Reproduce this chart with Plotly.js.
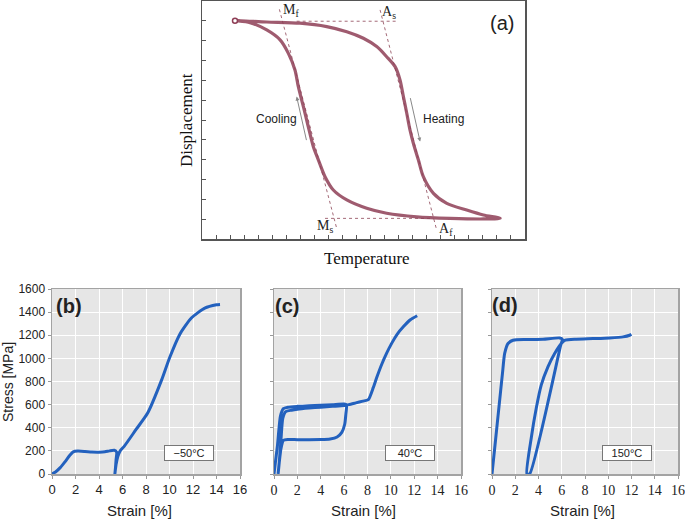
<!DOCTYPE html>
<html>
<head>
<meta charset="utf-8">
<script src="https://cdn.plot.ly/plotly-3.0.1.min.js"></script>
<style>html,body{margin:0;padding:0;background:#fff;}#chart{width:685px;height:521px;}</style>
</head>
<body>
<div id="chart"></div>
<script>
// ---------- Panel (a): displacement vs temperature (arbitrary units) ----------
const tempHeat = [2.35, 4.61, 6.98, 8.88, 10.31, 11.49, 12.44, 13.15, 13.75, 14.10, 14.34, 14.58, 14.81, 15.05, 15.41, 15.76, 16.48, 17.43, 18.85, 20.04, 21.23];
const dispHeat = [11.01, 10.94, 10.88, 10.71, 10.45, 10.12, 9.70, 9.19, 8.69, 8.02, 7.18, 6.34, 5.50, 4.83, 3.98, 3.14, 2.30, 1.80, 1.46, 1.21, 1.04];
const tempCool = [21.23, 20.04, 17.66, 15.29, 13.15, 11.73, 10.31, 9.35, 8.76, 8.29, 7.93, 7.57, 7.22, 6.86, 6.62, 6.15, 5.56, 4.61, 3.42, 2.35];
const dispCool = [1.04, 1.01, 1.04, 1.12, 1.30, 1.55, 1.97, 2.47, 3.14, 3.98, 4.65, 5.66, 6.67, 7.68, 8.52, 9.36, 10.04, 10.54, 10.91, 11.01];
// construction lines (Mf-Ms tangent, As-Af tangent, upper and lower levels)
const mLineT = [5.51, 9.59], mLineD = [11.58, 0.54];
const aLineT = [12.68, 16.71], aLineD = [11.55, 0.45];
const topLineT = [6.74, 13.87], topLineD = [10.98, 10.98];
const botLineT = [8.76, 16.48], botLineD = [1.04, 1.04];
const pointLabels = ['M<sub>f</sub>', 'A<sub>s</sub>', 'M<sub>s</sub>', 'A<sub>f</sub>'];
const pointT = [6.34, 13.32, 8.76, 17.38];
const pointD = [11.5, 11.4, 0.61, 0.50];

// ---------- Panels (b)-(d): stress [MPa] vs strain [%] ----------
const strainB = [0, 0.3, 0.7, 1.1, 1.5, 1.8, 2.2, 2.8, 3.4, 4.0, 4.5, 4.9, 5.3, 5.5, 5.45, 5.4, 5.35, 5.45, 5.6, 5.8, 6.14, 7.14, 8.14, 9.34, 10.0, 10.86, 11.86, 13.0, 14.0, 14.3];
const stressB = [0, 18, 55, 105, 160, 192, 198, 195, 190, 189, 192, 200, 205, 190, 120, 50, 0, 80, 150, 200, 239, 383, 527, 816, 1003, 1205, 1349, 1435, 1464, 1467];

const strainC = [0, 0.3, 0.55, 0.8, 1.2, 2, 3, 4, 5, 6, 6.2, 6.15, 6.05, 5.8, 5.4, 4.8, 4, 3, 2, 1.2, 0.8, 0.6, 0.45, 0.35, 0.45, 0.6, 0.75, 1.0, 1.5, 2, 3, 4, 5, 6, 6.4, 7, 7.6, 8.07, 8.5, 8.79, 9.22, 9.66, 10.09, 10.52, 11.1, 11.67, 12.25];
const stressC = [0, 250, 500, 565, 578, 585, 590, 595, 600, 605, 600, 520, 430, 360, 320, 303, 298, 297, 297, 298, 290, 220, 100, 0, 100, 300, 480, 540, 552, 560, 570, 578, 585, 592, 600, 615, 630, 643, 749, 834, 949, 1049, 1134, 1206, 1277, 1334, 1369];

const strainD = [0, 0.3, 0.6, 0.9, 1.09, 1.38, 1.81, 2.95, 4.39, 5.82, 6.05, 5.9, 3.24, 3.0, 3.38, 3.81, 4.24, 4.82, 5.39, 5.96, 6.3, 7.25, 8.69, 10.12, 11.27, 11.84, 11.99];
const stressD = [0, 290, 580, 870, 1043, 1129, 1157, 1163, 1166, 1177, 1165, 1110, 0, 0, 314, 571, 771, 929, 1043, 1129, 1157, 1166, 1171, 1177, 1186, 1200, 1209];

const tempLabels = ['−50°C', '40°C', '150°C'];
const panelLabels = ['(a)', '(b)', '(c)', '(d)'];
const stressTicks = [0, 200, 400, 600, 800, 1000, 1200, 1400, 1600];
const strainTicks = [0, 2, 4, 6, 8, 10, 12, 14, 16];

// ---------- traces ----------
const maroon = '#8e3e56';
const dotCol = '#a46a78';
const blue = '#2361be';
const traces = [];
function dotted(xs, ys) {
  traces.push({x: xs, y: ys, xaxis: 'x', yaxis: 'y', mode: 'lines', line: {color: dotCol, width: 1, dash: 'dot'}, hoverinfo: 'skip'});
}
dotted(mLineT, mLineD); dotted(aLineT, aLineD); dotted(topLineT, topLineD); dotted(botLineT, botLineD);
traces.push({x: tempHeat.concat(tempCool.slice(1)), y: dispHeat.concat(dispCool.slice(1)), xaxis: 'x', yaxis: 'y', mode: 'lines',
  line: {color: maroon, width: 3.2, shape: 'spline', smoothing: 0.8}, opacity: 0.85});
traces.push({x: [tempHeat[0]], y: [dispHeat[0]], xaxis: 'x', yaxis: 'y', mode: 'markers', marker: {size: 5, color: 'white', line: {color: maroon, width: 1.5}}});

const bData = [[strainB, stressB, 'x2', 'y2'], [strainC, stressC, 'x3', 'y3'], [strainD, stressD, 'x4', 'y4']];
bData.forEach(d => traces.push({x: d[0], y: d[1], xaxis: d[2], yaxis: d[3], mode: 'lines',
  line: {color: blue, width: 3, shape: 'spline', smoothing: 0.6}}));

// ---------- layout ----------
const W = 685, H = 521;
const px = v => v / W, py = v => 1 - v / H;
const sans = 'Liberation Sans, Arial, sans-serif';
const serif = 'Liberation Serif, Times New Roman, serif';

function range(a, b) { const r = []; for (let i = a; i <= b; i++) r.push(i); return r; }

const aAxisCommon = {showticklabels: false, ticks: 'inside', ticklen: 4, tickcolor: '#555', tickwidth: 1,
  showgrid: false, zeroline: false, showline: true, mirror: true, linecolor: '#555', linewidth: 1.5};

function sxAxis(dom, anchor, fam, size) {
  return {domain: dom, anchor: anchor, range: [0, 16], tickvals: strainTicks, ticks: 'outside', ticklen: 3, tickcolor: '#999',
    showgrid: true, gridcolor: '#ffffff', gridwidth: 1, zeroline: false, showline: true, mirror: true,
    linecolor: '#a3a3a3', linewidth: 1.5, ticklabeloverflow: 'allow', tickfont: {family: fam, size: size, color: '#222'}};
}
function syAxis(anchor, labels) {
  return {domain: [py(474), py(289)], anchor: anchor, range: [0, 1600], tickvals: stressTicks, ticks: 'outside', ticklen: 3, tickcolor: '#999',
    showgrid: true, gridcolor: '#ffffff', gridwidth: 1, zeroline: false, showline: true, mirror: true,
    linecolor: '#a3a3a3', linewidth: 1.5, showticklabels: labels, tickfont: {family: sans, size: 12, color: '#222'}};
}

const layout = {
  width: W, height: H, margin: {l: 0, r: 0, t: 0, b: 0},
  paper_bgcolor: '#ffffff', plot_bgcolor: '#ffffff', showlegend: false,
  xaxis: Object.assign({domain: [px(202), px(525)], anchor: 'y', range: [0, 23], tickvals: range(1, 22)}, aAxisCommon),
  yaxis: Object.assign({domain: [py(239), py(1)], anchor: 'x', range: [0, 12], tickvals: range(1, 11)}, aAxisCommon),
  xaxis2: sxAxis([px(52), px(240)], 'y2', sans, 13),
  yaxis2: syAxis('x2', true),
  xaxis3: sxAxis([px(274), px(461)], 'y3', serif, 14),
  yaxis3: syAxis('x3', false),
  xaxis4: sxAxis([px(492), px(678)], 'y4', serif, 14),
  yaxis4: syAxis('x4', false),
  shapes: ['2', '3', '4'].map(n => ({type: 'rect', xref: 'x' + n + ' domain', yref: 'y' + n + ' domain', x0: 0, x1: 1, y0: 0, y1: 1,
    fillcolor: '#e6e6e6', line: {width: 0}, layer: 'below'})),
  annotations: []
};

const ann = layout.annotations;
function note(o) { ann.push(Object.assign({showarrow: false, xanchor: 'center', yanchor: 'middle'}, o)); }
// panel (a) texts
pointLabels.forEach((t, i) => note({text: t, x: pointT[i], y: pointD[i], xref: 'x', yref: 'y',
  font: {family: serif, size: 14, color: '#222'}}));
note({text: panelLabels[0], x: px(502), y: py(23), xref: 'paper', yref: 'paper', font: {family: sans, size: 20, color: '#222'}});
note({text: 'Cooling', x: px(276), y: py(119), xref: 'paper', yref: 'paper', font: {family: sans, size: 12, color: '#222'}});
note({text: 'Heating', x: px(443), y: py(119), xref: 'paper', yref: 'paper', font: {family: sans, size: 12, color: '#222'}});
// direction arrows
ann.push({x: 6.74, y: 7.18, ax: 7.46, ay: 4.91, xref: 'x', yref: 'y', axref: 'x', ayref: 'y', text: '', showarrow: true,
  arrowhead: 2, arrowsize: 0.8, arrowwidth: 1, arrowcolor: '#888'});
ann.push({x: 15.53, y: 4.91, ax: 14.81, ay: 7.18, xref: 'x', yref: 'y', axref: 'x', ayref: 'y', text: '', showarrow: true,
  arrowhead: 2, arrowsize: 0.8, arrowwidth: 1, arrowcolor: '#888'});
note({text: 'Displacement', x: px(187), y: py(120), xref: 'paper', yref: 'paper', textangle: -90,
  font: {family: serif, size: 17, color: '#111'}});
note({text: 'Temperature', x: px(367), y: py(258), xref: 'paper', yref: 'paper',
  font: {family: serif, size: 17, color: '#111'}});
// panels (b)-(d) texts
[[69, 306], [287, 306], [505, 305]].forEach((p, i) => note({text: panelLabels[i + 1], x: px(p[0]), y: py(p[1]),
  xref: 'paper', yref: 'paper', font: {family: sans, size: 20, color: '#222', weight: 'bold'}}));
[['x2', 'y2'], ['x3', 'y3'], ['x4', 'y4']].forEach((r, i) => note({text: tempLabels[i], x: 11.65, y: 182, xref: r[0], yref: r[1],
  bgcolor: '#ffffff', bordercolor: '#777', borderwidth: 1, borderpad: 1, width: 46, height: 12,
  font: {family: sans, size: 11, color: '#222'}}));
[139, 363, 582].forEach(x => note({text: 'Strain [%]', x: px(x), y: py(510), xref: 'paper', yref: 'paper',
  font: {family: sans, size: 15, color: '#222'}}));
note({text: 'Stress [MPa]', x: px(8), y: py(382), xref: 'paper', yref: 'paper', textangle: -90,
  font: {family: sans, size: 14, color: '#222'}});

Plotly.newPlot('chart', traces, layout, {staticPlot: true, displayModeBar: false});
</script>
</body>
</html>
